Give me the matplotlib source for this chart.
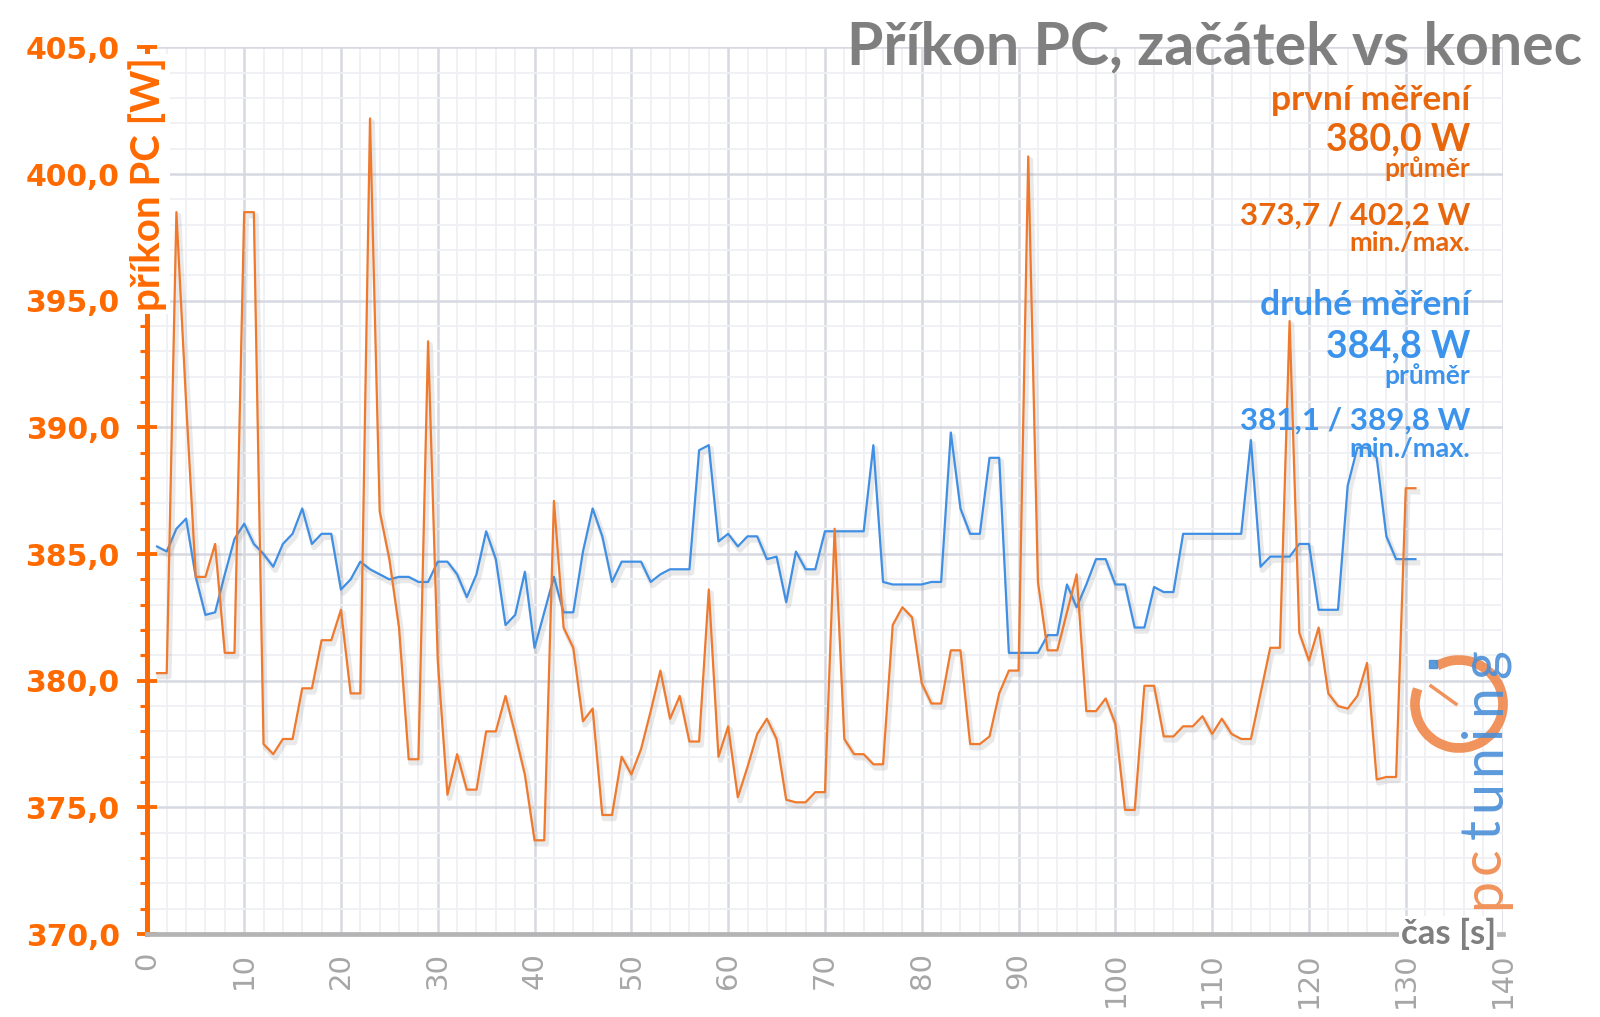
import numpy as np
import matplotlib
matplotlib.use("Agg")
import matplotlib.pyplot as plt
import matplotlib.patheffects as pe
from matplotlib.patches import Arc, Rectangle
from matplotlib.lines import Line2D
from matplotlib.ticker import MultipleLocator, FuncFormatter

# time axis (s), data starts at 1 s
cas = np.arange(1, 132)

# first measurement (start), W
prvni = [
    380.3, 380.3, 398.5, 391.0, 384.1, 384.1, 385.4, 381.1, 381.1, 398.5,
    398.5, 377.5, 377.1, 377.7, 377.7, 379.7, 379.7, 381.6, 381.6, 382.8,
    379.5, 379.5, 402.2, 386.7, 384.8, 382.1, 376.9, 376.9, 393.4, 380.8,
    375.5, 377.1, 375.7, 375.7, 378.0, 378.0, 379.4, 377.9, 376.3, 373.7,
    373.7, 387.1, 382.1, 381.3, 378.4, 378.9, 374.7, 374.7, 377.0, 376.3,
    377.3, 378.8, 380.4, 378.5, 379.4, 377.6, 377.6, 383.6, 377.0, 378.2,
    375.4, 376.6, 377.9, 378.5, 377.7, 375.3, 375.2, 375.2, 375.6, 375.6,
    386.0, 377.7, 377.1, 377.1, 376.7, 376.7, 382.2, 382.9, 382.5, 379.9,
    379.1, 379.1, 381.2, 381.2, 377.5, 377.5, 377.8, 379.5, 380.4, 380.4,
    400.7, 383.9, 381.2, 381.2, 382.7, 384.2, 378.8, 378.8, 379.3, 378.3,
    374.9, 374.9, 379.8, 379.8, 377.8, 377.8, 378.2, 378.2, 378.6, 377.9,
    378.5, 377.9, 377.7, 377.7, 379.5, 381.3, 381.3, 394.2, 381.9, 380.8,
    382.1, 379.5, 379.0, 378.9, 379.4, 380.7, 376.1, 376.2, 376.2, 387.6,
    387.6,
]

# second measurement (end), W
druhe = [
    385.3, 385.1, 386.0, 386.4, 384.1, 382.6, 382.7, 384.2, 385.6, 386.2,
    385.4, 385.0, 384.5, 385.4, 385.8, 386.8, 385.4, 385.8, 385.8, 383.6,
    384.0, 384.7, 384.4, 384.2, 384.0, 384.1, 384.1, 383.9, 383.9, 384.7,
    384.7, 384.2, 383.3, 384.2, 385.9, 384.8, 382.2, 382.6, 384.3, 381.3,
    382.7, 384.1, 382.7, 382.7, 385.1, 386.8, 385.7, 383.9, 384.7, 384.7,
    384.7, 383.9, 384.2, 384.4, 384.4, 384.4, 389.1, 389.3, 385.5, 385.8,
    385.3, 385.7, 385.7, 384.8, 384.9, 383.1, 385.1, 384.4, 384.4, 385.9,
    385.9, 385.9, 385.9, 385.9, 389.3, 383.9, 383.8, 383.8, 383.8, 383.8,
    383.9, 383.9, 389.8, 386.8, 385.8, 385.8, 388.8, 388.8, 381.1, 381.1,
    381.1, 381.1, 381.8, 381.8, 383.8, 382.9, 383.8, 384.8, 384.8, 383.8,
    383.8, 382.1, 382.1, 383.7, 383.5, 383.5, 385.8, 385.8, 385.8, 385.8,
    385.8, 385.8, 385.8, 389.5, 384.5, 384.9, 384.9, 384.9, 385.4, 385.4,
    382.8, 382.8, 382.8, 387.7, 389.2, 389.2, 388.8, 385.7, 384.8, 384.8,
    384.8,
]

titulek = "Příkon PC, začátek vs konec"
popisky_1 = ["první měření", "380,0 W", "průměr", "373,7 / 402,2 W", "min./max."]
popisky_2 = ["druhé měření", "384,8 W", "průměr", "381,1 / 389,8 W", "min./max."]

ORANZ = "#ef7a2e"
ORANZ_TXT = "#e8660c"
OSA = "#ff6a00"
MODRA = "#3f8fe4"
MODRA_TXT = "#3b93ec"
SEDA = "#7f7f7f"
LOGO_O = "#f0874a"
LOGO_M = "#4a8fd8"

plt.rcParams["font.family"] = ["Lato", "DejaVu Sans"]

W, H = 1600, 1017
fig = plt.figure(figsize=(16, 10.17), dpi=100)
ax = fig.add_axes([0.0921, 0.0816, 0.847, 0.8717])

stin = [pe.SimpleLineShadow(offset=(1.5, -2.5), shadow_color="#888888", alpha=0.18, linewidth=4),
        pe.Normal()]
ax.plot(cas, druhe, color=MODRA, lw=1.6, path_effects=stin, zorder=3)
ax.plot(cas, prvni, color=ORANZ, lw=1.6, path_effects=stin, zorder=4)

ax.set_xlim(0, 140)
ax.set_ylim(370, 405)

# grid
ax.xaxis.set_major_locator(MultipleLocator(10))
ax.xaxis.set_minor_locator(MultipleLocator(2))
ax.yaxis.set_major_locator(MultipleLocator(5))
ax.yaxis.set_minor_locator(MultipleLocator(1))
ax.grid(which="major", color="#d6d9e1", lw=1.8, zorder=0)
ax.grid(which="minor", color="#eef0f4", lw=1.3, zorder=0)
ax.set_axisbelow(True)

for s in ["top", "right"]:
    ax.spines[s].set_visible(False)
ax.spines["left"].set_color(OSA)
ax.spines["left"].set_linewidth(3.6)
ax.spines["bottom"].set_color("#b4b4b4")
ax.spines["bottom"].set_linewidth(3.4)

ax.yaxis.set_major_formatter(FuncFormatter(lambda v, p: f"{v:.1f}".replace(".", ",")))
ax.tick_params(axis="y", which="major", direction="inout", length=14, width=2.8,
               color=OSA, labelcolor=OSA, labelsize=21.5, pad=13)
ax.tick_params(axis="y", which="minor", direction="out", length=5, width=2.2, color=OSA)
for t in ax.get_yticklabels():
    t.set_fontfamily("DejaVu Sans")
    t.set_fontweight("bold")

ax.tick_params(axis="x", which="both", length=0, labelcolor="#a6a6a6", labelsize=21, pad=13)
for t in ax.get_xticklabels():
    t.set_rotation(90)
    t.set_fontfamily("DejaVu Sans")

# axis titles (white box hides the spine under the label)
ax.text(0.0, 0.846, "příkon PC [W]", transform=ax.transAxes, rotation=90,
        ha="center", va="center", color=OSA, fontsize=29, fontweight="bold",
        zorder=10, clip_on=False,
        bbox=dict(facecolor="white", edgecolor="none", pad=2))

ax.text(0.995, 0.0, "čas [s]", transform=ax.transAxes, ha="right", va="center",
        color=SEDA, fontsize=25, fontweight="bold", zorder=10, clip_on=False,
        bbox=dict(facecolor="white", edgecolor="none", pad=1))

fig.text(0.989, 0.953, titulek, ha="right", va="center", color=SEDA,
         fontsize=42.5, fontweight="bold")

# summary texts
xr = 0.919
velikosti = [25.5, 27, 19, 22.5, 19.5]
radky_1 = [100, 139, 169, 216, 243]
radky_2 = [305, 346, 376, 421, 449]
for txt, yy, fs in zip(popisky_1, radky_1, velikosti):
    fig.text(xr, 1 - yy / H, txt, ha="right", va="center", color=ORANZ_TXT,
             fontsize=fs, fontweight="bold")
for txt, yy, fs in zip(popisky_2, radky_2, velikosti):
    fig.text(xr, 1 - yy / H, txt, ha="right", va="center", color=MODRA_TXT,
             fontsize=fs, fontweight="bold")

# pctuning logo, letters set one by one upward
pismena = list("pctuning")
poz_y = [893, 861, 829, 796, 760, 731, 700, 664]
barvy = [LOGO_O, LOGO_O] + [LOGO_M] * 6
for ch, yy, barva in zip(pismena, poz_y, barvy):
    fig.text(1500 / W, 1 - yy / H, ch, rotation=90, rotation_mode="anchor",
             ha="center", va="baseline", color=barva, fontsize=40,
             fontweight="normal", alpha=0.9)
cx, cy, r = 1459, 704, 44
fig.patches.append(Arc((cx / W, 1 - cy / H), 2 * r / W, 2 * r / H, theta1=150, theta2=470,
                       transform=fig.transFigure, color=LOGO_O, lw=7, alpha=0.9))
fig.patches.append(Rectangle(((cx - 30) / W, 1 - (cy - 36) / H), 8 / W, 8 / H,
                             transform=fig.transFigure, color=LOGO_M, alpha=0.9))
fig.lines.append(Line2D([(cx - 28) / W, (cx - 3) / W], [1 - (cy - 18) / H, 1 - cy / H],
                        transform=fig.transFigure, color=LOGO_O, lw=2.5, alpha=0.9))

fig.savefig("out.png", dpi=100, facecolor="white")
